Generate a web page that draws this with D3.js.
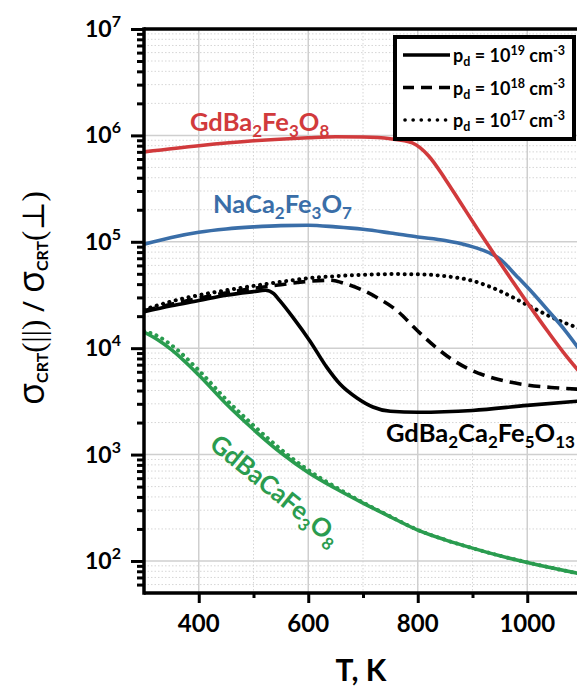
<!DOCTYPE html>
<html><head><meta charset="utf-8">
<script src="https://cdn.jsdelivr.net/npm/d3@7"></script>
<style>body{margin:0;background:#fff} svg{display:block}</style>
</head><body>
<svg id="c" width="577" height="689"></svg>
<script>
// ---------- data ----------
const xMajorTicks = [400, 600, 800, 1000];
const xMinorTicks = [500, 700, 900, 1100];
const yDecadeTicks = [1e2, 1e3, 1e4, 1e5, 1e6, 1e7];
const yDecadeExponents = ["2", "3", "4", "5", "6", "7"];
const legendExponents = ["19", "18", "17"];

const T_red = [300, 400, 500, 600, 650, 700, 750, 790, 820, 850, 880, 910, 940, 970, 1000, 1040, 1070, 1100];
const V_red = [7.0e5, 8.0e5, 8.9e5, 9.5e5, 9.7e5, 9.65e5, 9.3e5, 8.5e5, 6.4e5, 3.9e5, 2.25e5, 1.3e5, 7.6e4, 4.5e4, 2.68e4, 1.38e4, 8.6e3, 5.6e3];

const T_blue = [300, 350, 400, 450, 500, 550, 600, 650, 700, 750, 800, 850, 890, 920, 950, 980, 1010, 1040, 1070, 1100];
const V_blue = [9.5e4, 1.1e5, 1.23e5, 1.32e5, 1.38e5, 1.42e5, 1.43e5, 1.38e5, 1.31e5, 1.21e5, 1.11e5, 1.03e5, 9.3e4, 8.3e4, 6.9e4, 4.8e4, 3.3e4, 2.2e4, 1.45e4, 9.0e3];

const T_blk19 = [300, 350, 400, 450, 500, 522, 537, 548, 572, 603, 634, 658, 689, 718, 750, 800, 900, 1000, 1100];
const V_blk19 = [2.2e4, 2.5e4, 2.8e4, 3.15e4, 3.4e4, 3.5e4, 3.25e4, 2.8e4, 1.95e4, 1.17e4, 6.6e3, 4.6e3, 3.4e3, 2.8e3, 2.55e3, 2.5e3, 2.6e3, 2.9e3, 3.2e3];

const T_blk18 = [300, 400, 500, 550, 600, 640, 670, 700, 730, 760, 800, 830, 860, 890, 920, 960, 1000, 1050, 1100];
const V_blk18 = [2.25e4, 2.95e4, 3.65e4, 3.95e4, 4.25e4, 4.35e4, 4.0e4, 3.5e4, 2.9e4, 2.3e4, 1.45e4, 1.05e4, 8.0e3, 6.5e3, 5.6e3, 4.9e3, 4.5e3, 4.25e3, 4.1e3];

const T_blk17 = [300, 350, 400, 450, 500, 550, 600, 650, 700, 750, 800, 850, 900, 950, 1000, 1050, 1100];
const V_blk17 = [2.3e4, 2.75e4, 3.15e4, 3.5e4, 3.85e4, 4.2e4, 4.55e4, 4.75e4, 4.9e4, 4.97e4, 4.95e4, 4.75e4, 4.3e4, 3.45e4, 2.55e4, 1.9e4, 1.5e4];

const T_green = [300, 325, 350, 400, 450, 500, 550, 600, 650, 700, 750, 800, 850, 900, 950, 1000, 1050, 1100];
const V_green19 = [1.42e4, 1.2e4, 9.7e3, 5.6e3, 3.0e3, 1.72e3, 1.04e3, 680, 480, 350, 260, 195, 158, 132, 112, 97, 85, 75];
const V_green17 = [1.45e4, 1.3e4, 1.07e4, 6.2e3, 3.3e3, 1.88e3, 1.12e3, 715, 495, 355, 262, 196, 158, 132, 112, 97, 85, 75];

const colRed = "#d13a3c", colBlue = "#3a6ea8", colGreen = "#2a9c4f";
const FONT = "Lato, 'Open Sans', sans-serif";

// ---------- scales ----------
const svg = d3.select("#c");
const x = d3.scaleLinear().domain([300, 1200]).range([144, 636.75]);
const y = d3.scaleLog().domain([50, 1e7]).range([593, 29]);
const plotL = x(300), plotR = x(1200), plotT = y(1e7), plotB = y(50);

const yMinor = [];
[10, 100, 1000, 1e4, 1e5, 1e6].forEach(d => { for (let k = 2; k <= 9; k++) { const v = k * d; if (v > 50 && v < 1e7) yMinor.push(v); } });

svg.append("defs").append("clipPath").attr("id", "clip")
  .append("rect").attr("x", plotL).attr("y", plotT).attr("width", plotR - plotL).attr("height", plotB - plotT);

// ---------- grid ----------
const grid = svg.append("g");
grid.selectAll(".gym").data(yMinor).join("line")
  .attr("x1", plotL).attr("x2", plotR).attr("y1", d => y(d)).attr("y2", d => y(d))
  .attr("stroke", "#d6d6d6").attr("stroke-width", 1).attr("stroke-dasharray", "1.5 2");
grid.selectAll(".gxm").data(xMinorTicks).join("line")
  .attr("x1", d => x(d)).attr("x2", d => x(d)).attr("y1", plotT).attr("y2", plotB)
  .attr("stroke", "#d6d6d6").attr("stroke-width", 1).attr("stroke-dasharray", "1.5 2");
grid.selectAll(".gyM").data(yDecadeTicks).join("line")
  .attr("x1", plotL).attr("x2", plotR).attr("y1", d => y(d)).attr("y2", d => y(d))
  .attr("stroke", "#cfcfcf").attr("stroke-width", 1.5);
grid.selectAll(".gxM").data(xMajorTicks).join("line")
  .attr("x1", d => x(d)).attr("x2", d => x(d)).attr("y1", plotT).attr("y2", plotB)
  .attr("stroke", "#cfcfcf").attr("stroke-width", 1.5);

// ---------- series ----------
const line = d3.line().x(d => x(d[0])).y(d => y(d[1])).curve(d3.curveMonotoneX);
const zip = (a, b) => a.map((t, i) => [t, b[i]]);
const plot = svg.append("g").attr("clip-path", "url(#clip)");
function draw(T, V, color, style) {
  const p = plot.append("path").datum(zip(T, V)).attr("d", line)
    .attr("fill", "none").attr("stroke", color).attr("stroke-width", 3.6);
  if (style === "dash") p.attr("stroke-dasharray", "12 7");
  if (style === "dot") p.attr("stroke-dasharray", "0.1 6.5").attr("stroke-linecap", "round").attr("stroke-width", 4);
}
draw(T_green, V_green17, colGreen, "dot");
draw(T_green, V_green19, colGreen, "solid");
draw(T_blk17, V_blk17, "#000", "dot");
draw(T_blk18, V_blk18, "#000", "dash");
draw(T_blk19, V_blk19, "#000", "solid");
draw(T_blue, V_blue, colBlue, "solid");
draw(T_red, V_red, colRed, "solid");

// ---------- axes ----------
const yAxisMajor = svg.append("g").attr("transform", `translate(${plotL},0)`)
  .call(d3.axisLeft(y).tickValues(yDecadeTicks).tickSize(13).tickFormat(""));
const yAxisMinor = svg.append("g").attr("transform", `translate(${plotL},0)`)
  .call(d3.axisLeft(y).tickValues(yMinor).tickSize(7).tickFormat(""));
const xAxisMajor = svg.append("g").attr("transform", `translate(0,${plotB})`)
  .call(d3.axisBottom(x).tickValues(xMajorTicks).tickSize(10).tickFormat(""));
const xAxisMinor = svg.append("g").attr("transform", `translate(0,${plotB})`)
  .call(d3.axisBottom(x).tickValues(xMinorTicks).tickSize(5).tickFormat(""));
[yAxisMajor, yAxisMinor, xAxisMajor, xAxisMinor].forEach(g => {
  g.select(".domain").remove();
  g.selectAll(".tick line").attr("stroke", "#000").attr("stroke-width", 3);
});
svg.append("line").attr("x1", plotL).attr("x2", plotR).attr("y1", plotT).attr("y2", plotT).attr("stroke", "#000").attr("stroke-width", 3.5);
svg.append("line").attr("x1", plotL).attr("x2", plotR).attr("y1", plotB).attr("y2", plotB).attr("stroke", "#000").attr("stroke-width", 3.5);
svg.append("line").attr("x1", plotL).attr("x2", plotL).attr("y1", plotT - 1.75).attr("y2", plotB + 1.75).attr("stroke", "#000").attr("stroke-width", 3.5);

// tick labels
const ylab = svg.append("g").attr("font-family", FONT).attr("font-weight", 700).attr("fill", "#000");
yDecadeTicks.forEach((v, i) => {
  const t = ylab.append("text").attr("x", 121).attr("y", y(v) + 8).attr("text-anchor", "end").attr("font-size", 23);
  t.append("tspan").text("10");
  t.append("tspan").text(yDecadeExponents[i]).attr("font-size", 16).attr("dy", -10);
});
svg.append("g").selectAll("text").data(xMajorTicks).join("text")
  .attr("x", d => x(d)).attr("y", 632).attr("text-anchor", "middle")
  .attr("font-family", FONT).attr("font-weight", 700).attr("font-size", 24).text(d => d);

svg.append("text").attr("x", 361).attr("y", 681).attr("text-anchor", "middle")
  .attr("font-family", FONT).attr("font-weight", 700).attr("font-size", 30).text("T, K");

function rich(sel, parts) {
  let cur = 0;
  parts.forEach(p => {
    const s = p.shift || 0;
    const ts = sel.append("tspan").text(p.t).attr("dy", s - cur);
    if (p.size) ts.attr("font-size", p.size);
    if (p.weight) ts.attr("font-weight", p.weight);
    if (p.family) ts.attr("font-family", p.family);
    cur = s;
  });
}
const yTitle = svg.append("text").attr("transform", "translate(44,298) rotate(-90)")
  .attr("text-anchor", "middle").attr("font-family", "'Open Sans', sans-serif").attr("font-size", 30);
const SERIF = "'Liberation Serif', 'DejaVu Serif', serif";
rich(yTitle, [
  { t: "σ", size: 36 },
  { t: "CRT", size: 16, weight: 700, shift: 4, family: FONT },
  { t: "(||)", size: 31, family: SERIF },
  { t: " / ", size: 30 },
  { t: "σ", size: 36 },
  { t: "CRT", size: 16, weight: 700, shift: 4, family: FONT },
  { t: "(⊥)", size: 31, family: SERIF }
]);

// series labels
function formula(xp, yp, color, parts, rot) {
  const t = svg.append("text").attr("transform", `translate(${xp},${yp})` + (rot ? ` rotate(${rot})` : ""))
    .attr("font-family", FONT).attr("font-weight", 700).attr("font-size", 25.5).attr("fill", color);
  rich(t, parts.map(p => typeof p === "string" ? { t: p } : { t: p[0], size: 17, shift: 6 }));
}
formula(190, 131, colRed, ["GdBa", ["2"], "Fe", ["3"], "O", ["8"]]);
formula(213, 213, colBlue, ["NaCa", ["2"], "Fe", ["3"], "O", ["7"]]);
formula(386, 442, "#000", ["GdBa", ["2"], "Ca", ["2"], "Fe", ["5"], "O", ["13"]]);
formula(208, 447, colGreen, ["GdBaCaFe", ["3"], "O", ["8"]], 39);

// legend
const lg = svg.append("g");
lg.append("rect").attr("x", 395).attr("y", 37).attr("width", 179).attr("height", 102)
  .attr("fill", "#fff").attr("stroke", "#000").attr("stroke-width", 4);
const styles = ["solid", "dash", "dot"];
legendExponents.forEach((e, i) => {
  const yy = 55 + i * 32.5;
  const l = lg.append("line").attr("x1", 403).attr("x2", 450).attr("y1", yy).attr("y2", yy)
    .attr("stroke", "#000").attr("stroke-width", 3.6);
  if (styles[i] === "dash") l.attr("stroke-dasharray", "11 7");
  if (styles[i] === "dot") l.attr("stroke-dasharray", "0.1 8").attr("stroke-linecap", "round").attr("x1", 405);
  const t = lg.append("text").attr("x", 453).attr("y", yy + 7).attr("font-family", FONT)
    .attr("font-weight", 700).attr("font-size", 18);
  rich(t, [{ t: "p" }, { t: "d", size: 12.5, shift: 4 }, { t: " = 10" }, { t: e, size: 12.5, shift: -7 }, { t: " cm" }, { t: "-3", size: 12.5, shift: -7 }]);
});
</script></body></html>
